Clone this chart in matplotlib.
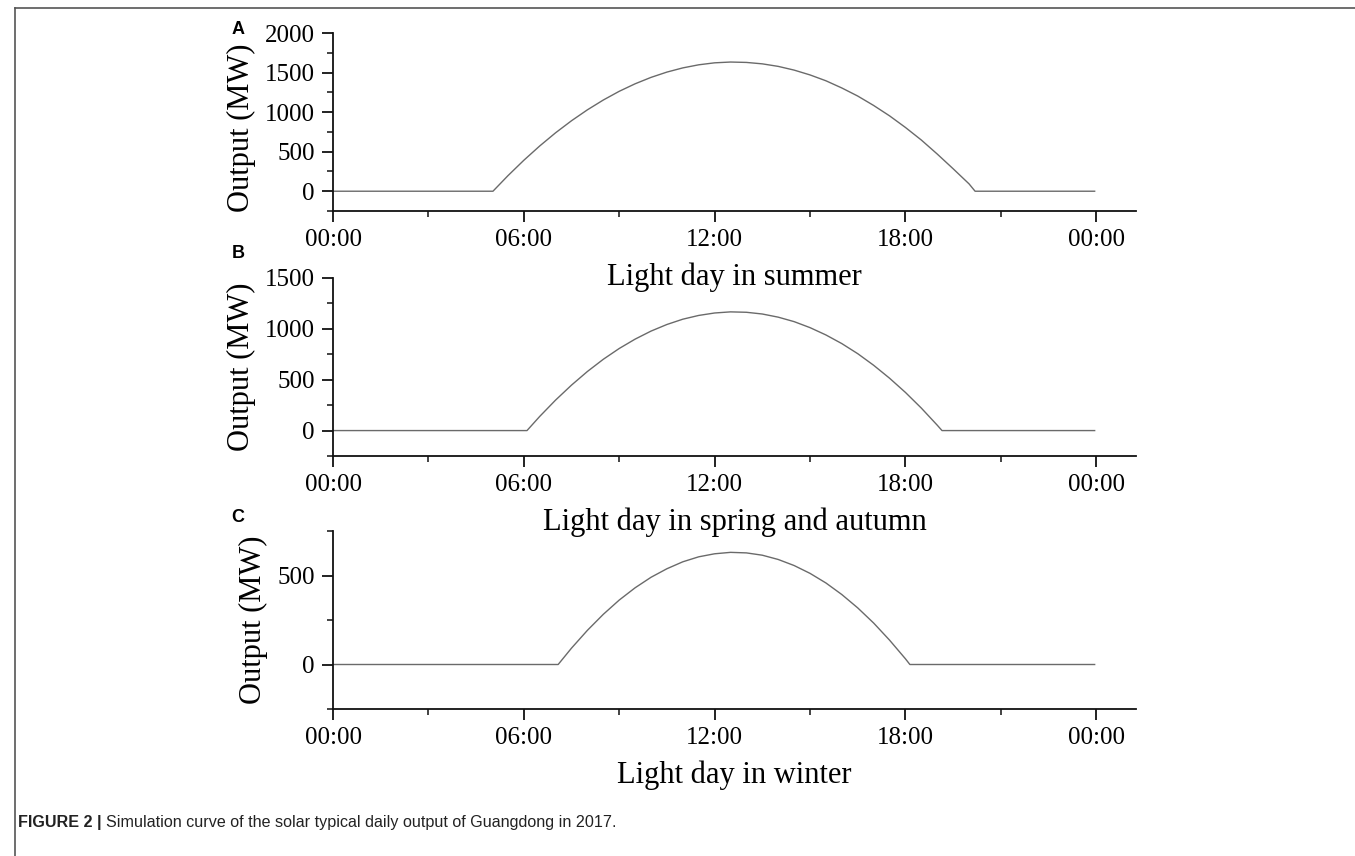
import matplotlib
matplotlib.use("Agg")
from matplotlib import pyplot as plt
from matplotlib.lines import Line2D
from matplotlib.ticker import MultipleLocator, FuncFormatter

# hours of the day and simulated output (MW)
summer_t = [0, 5.03, 5.5, 6, 6.5, 7, 7.5, 8, 8.5, 9, 9.5, 10, 10.5, 11, 11.5, 12, 12.5,
            13, 13.5, 14, 14.5, 15, 15.5, 16, 16.5, 17, 17.5, 18, 18.5, 19, 19.5, 20,
            20.19, 23.95]
summer_mw = [0, 0, 196, 391, 572, 739, 891, 1029, 1153, 1263, 1358, 1439, 1506, 1559,
             1598, 1623, 1633, 1628, 1610, 1578, 1531, 1470, 1396, 1305, 1203, 1084,
             953, 806, 647, 470, 284, 93, 0, 0]

spring_t = [0, 6.1, 6.5, 7, 7.5, 8, 8.5, 9, 9.5, 10, 10.5, 11, 11.5, 12, 12.5, 13, 13.5,
            14, 14.5, 15, 15.5, 16, 16.5, 17, 17.5, 18, 18.5, 19, 19.15, 23.95]
spring_mw = [0, 0, 139, 300, 447, 581, 701, 807, 899, 978, 1043, 1095, 1132, 1156, 1167,
             1163, 1146, 1115, 1071, 1012, 940, 855, 756, 642, 515, 375, 221, 53, 0, 0]

winter_t = [0, 7.08, 7.5, 8, 8.5, 9, 9.5, 10, 10.5, 11, 11.5, 12, 12.5, 13, 13.5, 14,
            14.5, 15, 15.5, 16, 16.5, 17, 17.5, 18, 18.14, 23.95]
winter_mw = [0, 0, 92, 192, 282, 362, 431, 490, 538, 577, 605, 622, 630, 627, 614, 590,
             556, 512, 458, 393, 318, 233, 137, 32, 0, 0]

panel_letters = ['A', 'B', 'C']
xlabels = ['Light day in summer', 'Light day in spring and autumn', 'Light day in winter']
ylims = [(-250, 2000), (-250, 1500), (-250, 750)]
caption_bold = 'FIGURE 2 |'
caption_rest = 'Simulation curve of the solar typical daily output of Guangdong in 2017.'

W, H = 1355, 856
serif = ['Liberation Serif', 'DejaVu Serif']
sans = ['Liberation Sans', 'DejaVu Sans']

fig = plt.figure(figsize=(W / 100, H / 100), dpi=100)

# axes boxes in pixels: (top, bottom)
boxes = [(33, 211), (278, 456), (531, 709)]
left, right = 333, 1136
series = [(summer_t, summer_mw), (spring_t, spring_mw), (winter_t, winter_mw)]
ylab_x = [241, 241, 253]
ylab_y = [0.465, 0.5, 0.5]
letter_y = [29, 253, 517]


def hhmm(v, pos):
    return '%02d:00' % (int(round(v)) % 24)


for i, (top, bot) in enumerate(boxes):
    ax = fig.add_axes([left / W, 1 - bot / H, (right - left) / W, (bot - top) / H])
    ax.patch.set_visible(False)
    t, mw = series[i]
    ax.plot(t, mw, color='#6a6a6a', lw=1.0)
    ax.set_xlim(0, 25.25)
    ax.spines['top'].set_visible(False)
    ax.spines['right'].set_visible(False)
    for s in ('left', 'bottom'):
        ax.spines[s].set_linewidth(1.3)
        ax.spines[s].set_color('#111111')
    ax.set_xticks([0, 6, 12, 18, 24])
    ax.set_xticks([3, 9, 15, 21], minor=True)
    ax.xaxis.set_major_formatter(FuncFormatter(hhmm))
    ax.yaxis.set_major_locator(MultipleLocator(500))
    ax.yaxis.set_minor_locator(MultipleLocator(250))
    ax.set_ylim(*ylims[i])
    ax.tick_params(which='major', length=8, width=1.3, direction='out', pad=5,
                   labelsize=18, color='#111111')
    ax.tick_params(which='minor', length=4, width=1.1, direction='out', color='#111111')
    for lab in ax.get_xticklabels() + ax.get_yticklabels():
        lab.set_family(serif)
    ax.set_xlabel(xlabels[i], fontsize=22, family=serif, labelpad=8)
    ax.set_ylabel('Output (MW)', fontsize=22, family=serif, va='center')
    ax.yaxis.set_label_coords((ylab_x[i] - left) / (right - left), ylab_y[i])
    fig.text(238 / W, 1 - letter_y[i] / H, panel_letters[i], fontsize=13,
             fontweight='bold', family=sans, ha='center', va='center')

# frame lines (top and left) like the journal layout
fig.add_artist(Line2D([15 / W, 1], [1 - 8 / H, 1 - 8 / H], transform=fig.transFigure,
                      color='#555555', lw=1.2))
fig.add_artist(Line2D([15 / W, 15 / W], [0, 1 - 8 / H], transform=fig.transFigure,
                      color='#555555', lw=1.2))

cap_y = 1 - 827 / H
t1 = fig.text(18 / W, cap_y, caption_bold, fontsize=11.6, fontweight='bold',
              family=sans, ha='left', va='baseline', color='#222222')
fig.canvas.draw()
bb = t1.get_window_extent(fig.canvas.get_renderer())
fig.text(bb.x1 / W + 4 / W, cap_y, caption_rest, fontsize=11.6, family=sans,
         ha='left', va='baseline', color='#222222')

fig.savefig('out.png', dpi=100)
